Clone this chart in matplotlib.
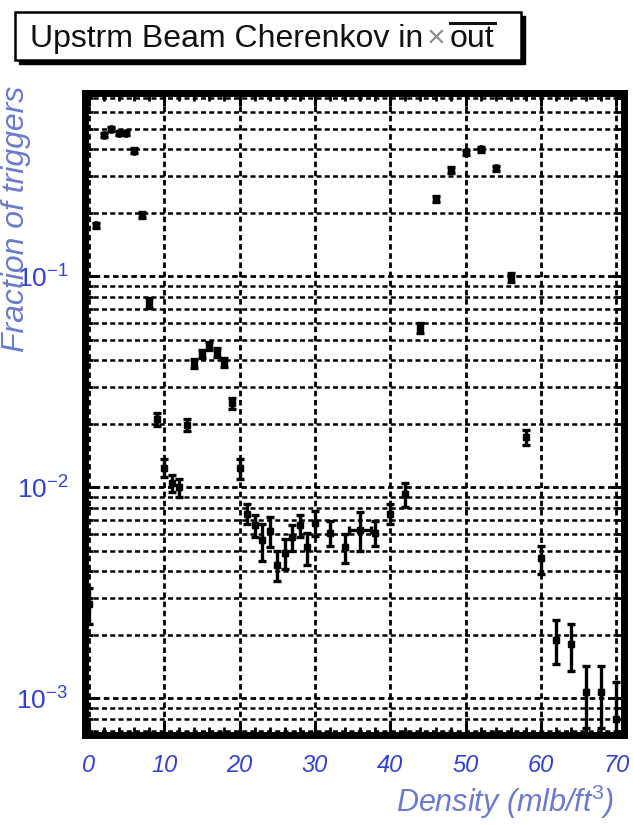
import matplotlib
matplotlib.use("Agg")
import matplotlib.pyplot as plt
from matplotlib.patches import Rectangle
from matplotlib.lines import Line2D
from matplotlib.ticker import FixedLocator, FixedFormatter, MultipleLocator, NullFormatter

plt.rcParams['font.family'] = ['Liberation Sans', 'DejaVu Sans']
plt.rcParams['mathtext.fontset'] = 'custom'
plt.rcParams['mathtext.rm'] = 'Liberation Sans'
plt.rcParams['mathtext.it'] = 'Liberation Sans:italic'

# density bins and fraction of triggers
density = [0, 1, 2, 3, 4, 5, 6, 7, 8, 9, 10, 11, 12, 13, 14, 15, 16, 17, 18, 19,
           20, 21, 22, 23, 24, 25, 26, 27, 28, 29, 30, 32, 34, 36, 38, 40, 42,
           44, 46, 48, 50, 52, 54, 56, 58, 60, 62, 64, 66, 68, 70]
fraction = [0.0028, 0.175, 0.466, 0.50, 0.48, 0.48, 0.395, 0.195, 0.075, 0.021,
            0.0124, 0.0105, 0.0100, 0.0197, 0.0388, 0.043, 0.047, 0.0436, 0.039, 0.025,
            0.0123, 0.0075, 0.0066, 0.0056, 0.0062, 0.0043, 0.0049, 0.0058, 0.0066, 0.0052,
            0.0068, 0.0061, 0.0052, 0.0063, 0.0061, 0.0075, 0.0093,
            0.057, 0.232, 0.32, 0.387, 0.40, 0.325, 0.099, 0.0173, 0.0046,
            0.0019, 0.0018, 0.00107, 0.00107, 0.0008]
frac_err = [0.00055, 0.005, 0.01, 0.01, 0.01, 0.01, 0.01, 0.006, 0.004, 0.0015,
            0.0012, 0.001, 0.001, 0.0013, 0.002, 0.002, 0.002, 0.002, 0.002, 0.0015,
            0.0013, 0.0008, 0.0008, 0.0011, 0.001, 0.0007, 0.0008, 0.0008, 0.0008, 0.0009,
            0.0009, 0.0008, 0.0008, 0.0013, 0.0008, 0.0008, 0.0012,
            0.003, 0.008, 0.01, 0.012, 0.01, 0.01, 0.005, 0.0015, 0.0007,
            0.00045, 0.00045, 0.00035, 0.00035, 0.0004]
xerr_vals = [0] * 33 + [1.5] + [0] * 17

y_ticks = [1e-3, 1e-2, 1e-1]
y_ticklabels = [r'$\mathit{10^{-3}}$', r'$\mathit{10^{-2}}$', r'$\mathit{10^{-1}}$']
x_ticks = [0, 10, 20, 30, 40, 50, 60, 70]
x_ticklabels = ['0', '10', '20', '30', '40', '50', '60', '70']

blue = '#3040d8'
light_blue = '#6a7ad0'

fig = plt.figure(figsize=(6.33, 8.25), dpi=100)
ax = fig.add_axes([85 / 633, 1 - 735 / 825, 539 / 633, 642 / 825])

ax.errorbar(density, fraction, yerr=frac_err, xerr=xerr_vals, fmt='s', color='black',
            markersize=5, elinewidth=2.4, capsize=3.2, capthick=2.4, zorder=5)

ax.set_yscale('log')
ax.set_xlim(-0.5, 71)
ax.set_ylim(6.7e-4, 0.74)

ax.xaxis.set_major_locator(FixedLocator(x_ticks))
ax.xaxis.set_major_formatter(FixedFormatter(x_ticklabels))
ax.xaxis.set_minor_locator(MultipleLocator(2))
ax.yaxis.set_major_locator(FixedLocator(y_ticks))
ax.yaxis.set_major_formatter(FixedFormatter(y_ticklabels))
ax.yaxis.set_minor_formatter(NullFormatter())

ax.tick_params(which='both', direction='in', top=True, right=True, color='black')
ax.tick_params(which='major', length=9, width=2.2)
ax.tick_params(which='minor', length=6, width=2)
ax.tick_params(axis='x', which='major', pad=14, labelsize=17, labelcolor=blue)
ax.tick_params(axis='y', which='major', pad=12, labelsize=19, labelcolor=blue)
for lab in ax.get_xticklabels():
    lab.set_fontstyle('italic')

ax.grid(True, which='major', color='black', linestyle=(0, (2, 1.3)), linewidth=2)
ax.grid(True, which='minor', axis='y', color='black', linestyle=(0, (2, 1.3)), linewidth=1.8)

for sp in ax.spines.values():
    sp.set_linewidth(5)

ax.set_ylabel('Fraction of triggers', fontsize=23, color=light_blue, fontstyle='italic',
              loc='top')
ax.yaxis.set_label_coords((31 - 85) / 539, (735 - 86) / 642)
ax.set_xlabel(r'Density (mlb/ft$^{\mathit{3}}$)', fontsize=22, color=light_blue,
              fontstyle='italic', loc='right')
ax.xaxis.set_label_coords((614 - 85) / 539, (735 - 783) / 642)

# title box with shadow
fig.patches.append(Rectangle((19 / 633, 1 - 64 / 825), 506 / 633, 48 / 825,
                             transform=fig.transFigure, facecolor='black',
                             edgecolor='black', zorder=1))
fig.patches.append(Rectangle((15 / 633, 1 - 60 / 825), 506 / 633, 48 / 825,
                             transform=fig.transFigure, facecolor='white',
                             edgecolor='black', linewidth=1.8, zorder=2))
base_y = 1 - 47 / 825
t1 = fig.text(30 / 633, base_y, 'Upstrm Beam Cherenkov in', fontsize=23,
              color='#111111', va='baseline', ha='left', zorder=3)
fig.canvas.draw()
r = fig.canvas.get_renderer()
x1 = t1.get_window_extent(r).x1
t2 = fig.text((x1 + 4) / 633, base_y, '\u00d7', fontsize=23, color='#909090',
              va='baseline', ha='left', zorder=3)
x2 = t2.get_window_extent(r).x1
t3 = fig.text((x2 + 4) / 633, base_y, 'out', fontsize=23, color='#111111',
              va='baseline', ha='left', zorder=3)
bb = t3.get_window_extent(r)
fig.add_artist(Line2D([bb.x0 / 633, bb.x1 / 633], [(bb.y1 + 1) / 825, (bb.y1 + 1) / 825],
                      transform=fig.transFigure, color='#111111', linewidth=2.2, zorder=3))

fig.savefig('out.png', dpi=100)
